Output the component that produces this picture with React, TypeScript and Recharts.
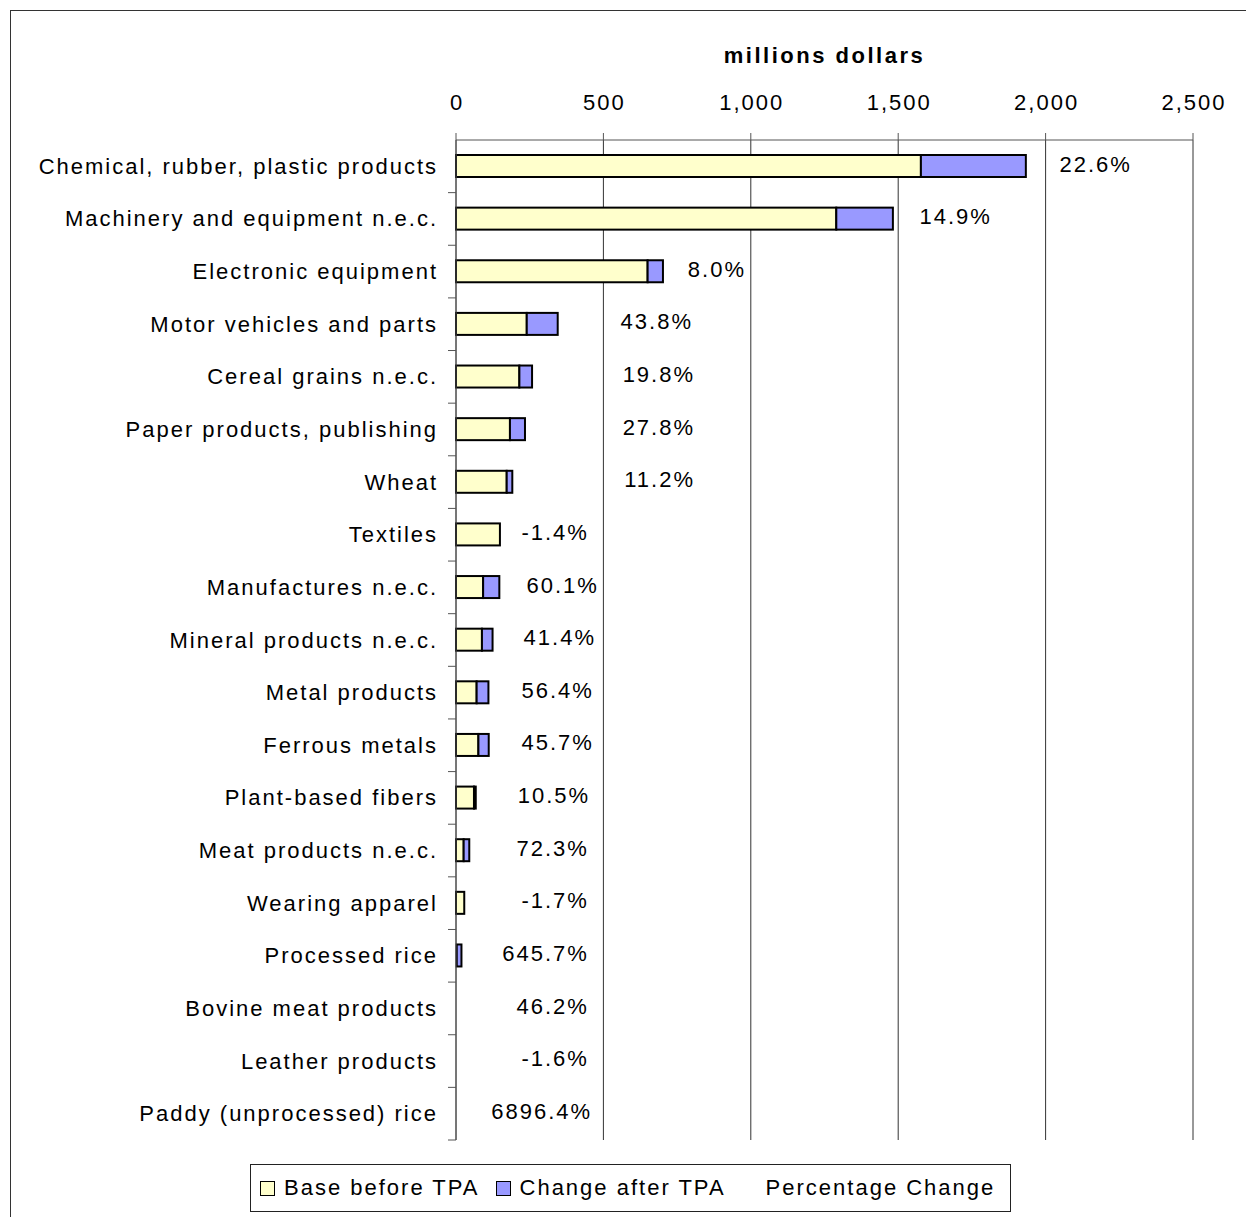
import React from "react";
import { Bar, BarChart, CartesianGrid, LabelList, XAxis, YAxis } from "recharts";

const FONT = '"Liberation Sans", Arial, sans-serif';

const categories = [
  "Chemical, rubber, plastic products",
  "Machinery and equipment n.e.c.",
  "Electronic equipment",
  "Motor vehicles and parts",
  "Cereal grains n.e.c.",
  "Paper products, publishing",
  "Wheat",
  "Textiles",
  "Manufactures n.e.c.",
  "Mineral products n.e.c.",
  "Metal products",
  "Ferrous metals",
  "Plant-based fibers",
  "Meat products n.e.c.",
  "Wearing apparel",
  "Processed rice",
  "Bovine meat products",
  "Leather products",
  "Paddy (unprocessed) rice",
];

// millions dollars
const baseBeforeTPA = [1577, 1290, 650, 240, 215, 183, 172, 149, 92, 88, 70, 76, 61, 26, 28, 2.5, 0.8, 0.6, 0.01];
const changeAfterTPA = [356, 192, 52, 105, 43, 51, 19, -2, 55, 36, 40, 35, 6, 19, -0.5, 16, 0.4, -0.01, 0.7];
const percentageChange = [
  "22.6%", "14.9%", "8.0%", "43.8%", "19.8%", "27.8%", "11.2%", "-1.4%", "60.1%", "41.4%",
  "56.4%", "45.7%", "10.5%", "72.3%", "-1.7%", "645.7%", "46.2%", "-1.6%", "6896.4%",
];
// end of the hidden "Percentage Change" series (where its label sits), in axis units
const percentageLabelAt = [2286, 1811, 977, 797, 804, 804, 804, 444, 478, 468, 461, 461, 448, 444, 444, 444, 444, 444, 455];

const xTicks = [0, 500, 1000, 1500, 2000, 2500];
const seriesNames = ["Base before TPA", "Change after TPA", "Percentage Change"];
const seriesColors = ["#FFFFCC", "#9999FF", "transparent"];

const data = categories.map((name, i) => ({
  name,
  base: baseBeforeTPA[i],
  change: changeAfterTPA[i],
  pctRoom: percentageLabelAt[i] - baseBeforeTPA[i] - changeAfterTPA[i],
  pct: percentageChange[i],
}));

const PLOT_TOP = 140;
const PLOT_BOTTOM = 1140;
const BAND = (PLOT_BOTTOM - PLOT_TOP) / categories.length;

function EdgedBar(props: any) {
  const { x, y, width, height, fill } = props;
  if (!(Math.abs(width) >= 1)) return <g />;
  const left = width < 0 ? x + width : x;
  return (
    <rect x={left} y={y} width={Math.abs(width)} height={height} fill={fill} stroke="#000" strokeWidth={2} />
  );
}

function CategoryTick(props: any) {
  const { x, y, payload } = props;
  return (
    <g>
      <text
        x={x - 18}
        y={y}
        textAnchor="end"
        dominantBaseline="central"
        fontSize={22}
        letterSpacing={2}
        fill="#000"
        fontFamily={FONT}
      >
        {payload.value}
      </text>
      <line x1={x - 8} x2={x} y1={y + BAND / 2} y2={y + BAND / 2} stroke="#555" strokeWidth={1} />
    </g>
  );
}

function ValueTick(props: any) {
  const { x, y, payload } = props;
  return (
    <text x={x + 1} y={y} textAnchor="middle" fontSize={22} letterSpacing={2} fill="#000" fontFamily={FONT}>
      {Number(payload.value).toLocaleString("en-US")}
    </text>
  );
}

function PctLabel(props: any) {
  const vb = props.viewBox ?? props;
  const { x, y, width, height } = vb;
  return (
    <text
      x={x + width + 2}
      y={y + height / 2 - 2}
      textAnchor="end"
      dominantBaseline="central"
      fontSize={22}
      letterSpacing={2}
      fill="#000"
      fontFamily={FONT}
    >
      {props.value}
    </text>
  );
}

export default function App() {
  return (
    <div
      style={{
        position: "fixed",
        left: 0,
        top: 0,
        width: 1246,
        height: 1217,
        overflow: "hidden",
        background: "#fff",
        fontFamily: FONT,
      }}
    >
      <div
        style={{
          position: "absolute",
          left: 10,
          top: 10,
          width: 1300,
          height: 1300,
          border: "1px solid #333",
        }}
      />
      <div
        style={{
          position: "absolute",
          left: 456,
          top: 45,
          width: 737,
          textAlign: "center",
          fontSize: 22,
          lineHeight: "22px",
          fontWeight: "bold",
          letterSpacing: 2.5,
          color: "#000",
        }}
      >
        millions dollars
      </div>
      <div style={{ position: "absolute", left: 0, top: 0 }}>
        <BarChart
          width={1246}
          height={1217}
          data={data}
          layout="vertical"
          margin={{ top: 0, right: 53, bottom: 77, left: 0 }}
          barSize={22}
        >
          <CartesianGrid horizontal={false} stroke="#333" />
          <XAxis
            type="number"
            orientation="top"
            domain={[0, 2500]}
            ticks={xTicks}
            height={PLOT_TOP}
            axisLine={{ stroke: "#555" }}
            tickLine={{ stroke: "#555" }}
            tickSize={7}
            tickMargin={23}
            tick={<ValueTick />}
            interval={0}
          />
          <YAxis
            type="category"
            dataKey="name"
            width={456}
            axisLine={{ stroke: "#555" }}
            tickLine={false}
            tickSize={0}
            tickMargin={0}
            tick={<CategoryTick />}
            interval={0}
          />
          <Bar dataKey="base" name={seriesNames[0]} stackId="a" fill={seriesColors[0]} shape={<EdgedBar />} isAnimationActive={false} />
          <Bar dataKey="change" name={seriesNames[1]} stackId="a" fill={seriesColors[1]} shape={<EdgedBar />} isAnimationActive={false} />
          <Bar dataKey="pctRoom" name={seriesNames[2]} stackId="a" fill="none" isAnimationActive={false}>
            <LabelList dataKey="pct" content={<PctLabel />} />
          </Bar>
        </BarChart>
      </div>
      <div
        style={{
          position: "absolute",
          left: 250,
          top: 1164,
          width: 761,
          height: 48,
          boxSizing: "border-box",
          border: "1px solid #222",
          display: "flex",
          alignItems: "center",
          paddingLeft: 9,
          gap: 16,
          fontSize: 22,
          letterSpacing: 2,
          color: "#000",
        }}
      >
        {seriesNames.map((name, i) => (
          <div key={name} style={{ display: "flex", alignItems: "center", gap: 9 }}>
            <span
              style={{
                display: "inline-block",
                width: 15,
                height: 15,
                boxSizing: "border-box",
                background: seriesColors[i],
                border: i < 2 ? "1px solid #000" : "1px solid transparent",
              }}
            />
            <span>{name}</span>
          </div>
        ))}
      </div>
    </div>
  );
}
